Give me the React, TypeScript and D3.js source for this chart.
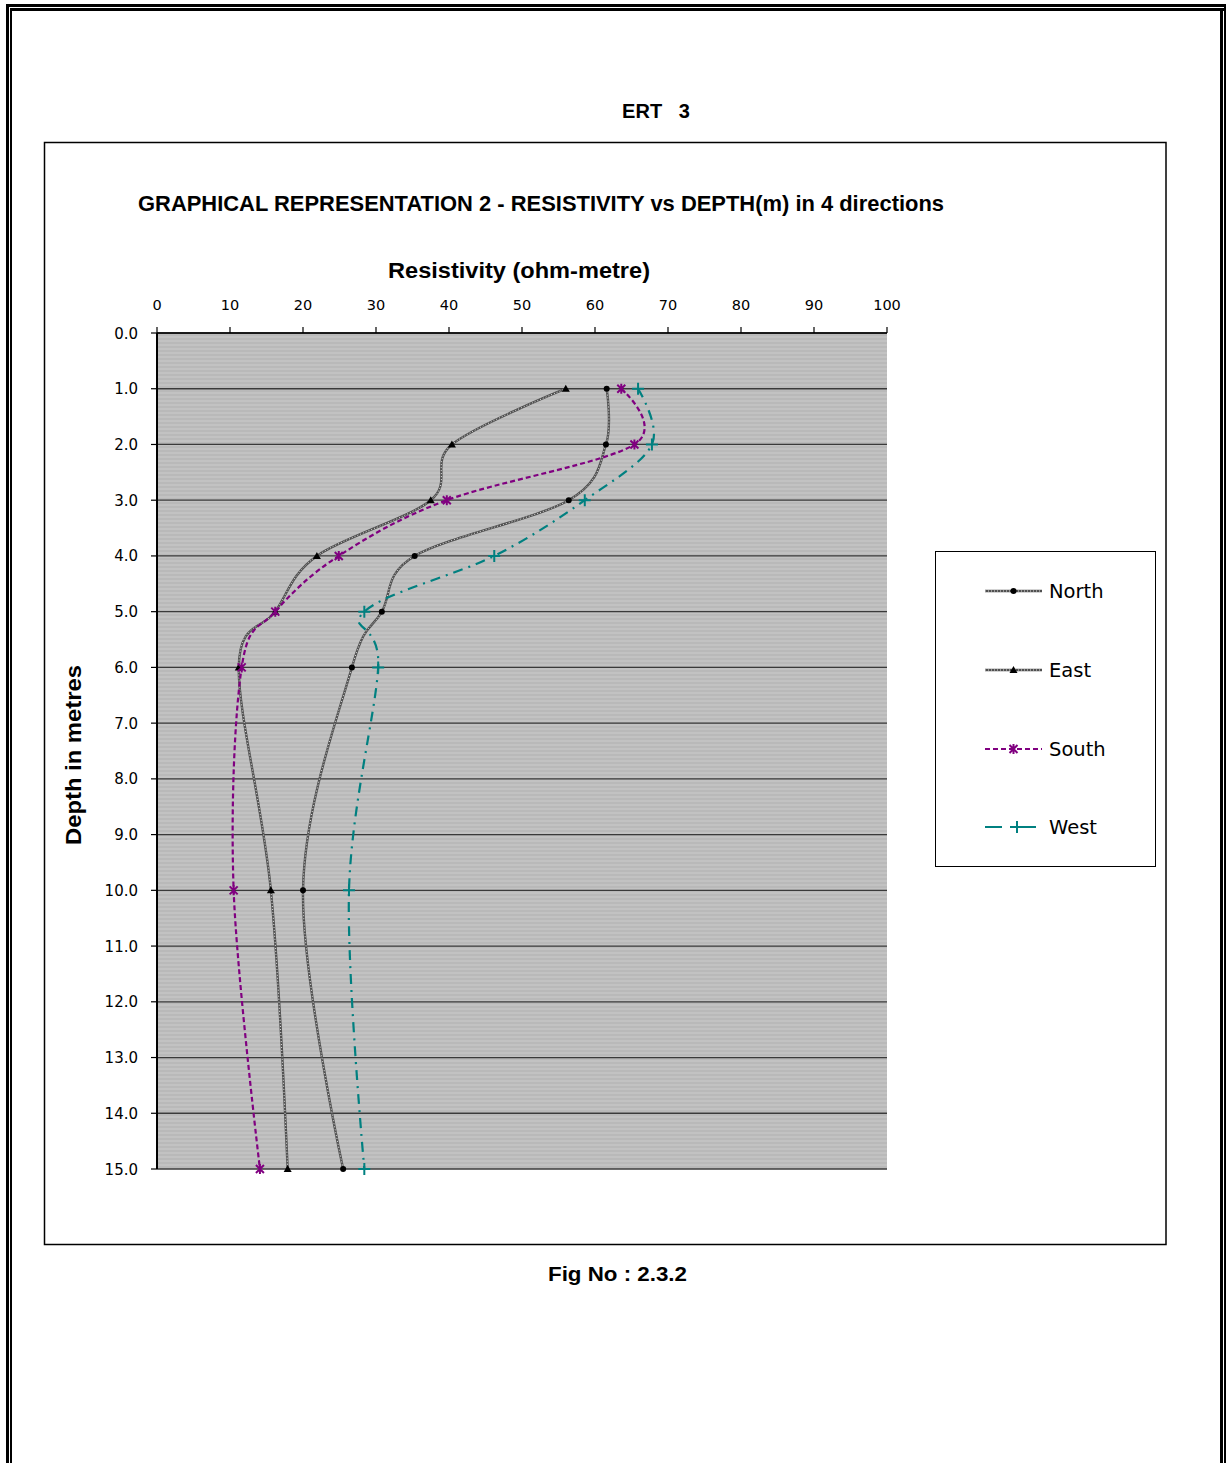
import React from "react";
import * as d3 from "d3";

const depths = [1, 2, 3, 4, 5, 6, 10, 15];
const north = [61.6, 61.5, 56.4, 35.3, 30.8, 26.7, 20.0, 25.5];
const east = [56.0, 40.4, 37.5, 21.9, 16.2, 11.2, 15.6, 17.9];
const south = [63.6, 65.4, 39.7, 24.9, 16.2, 11.6, 10.5, 14.1];
const west = [65.9, 67.8, 58.6, 46.2, 28.4, 30.3, 26.3, 28.4];
const xTicks = [0, 10, 20, 30, 40, 50, 60, 70, 80, 90, 100];
const yTicks = d3.range(0, 16);
const seriesNames = ["North", "East", "South", "West"];

const W = 1226;
const H = 1463;
const PL = 157, PR = 887, PT = 333, PB = 1169;

export default function App() {
  const x = d3.scaleLinear().domain([0, 100]).range([PL, PR]);
  const y = d3.scaleLinear().domain([0, 15]).range([PT, PB]);
  const line = d3
    .line<[number, number]>()
    .x((d) => x(d[0]))
    .y((d) => y(d[1]))
    .curve(d3.curveCardinal.tension(0));
  const pts = (vals: number[]) => vals.map((v, i) => [v, depths[i]] as [number, number]);

  const tickFont = "DejaVu Sans, Verdana, sans-serif";
  const titleFont = "Liberation Sans, Arial, sans-serif";

  const circle = (cx: number, cy: number, k: string) => (
    <circle key={k} cx={cx} cy={cy} r={3} fill="#000" />
  );
  const tri = (cx: number, cy: number, k: string) => (
    <path key={k} d={`M${cx},${cy - 4}L${cx + 4},${cy + 3}L${cx - 4},${cy + 3}Z`} fill="#000" />
  );
  const star = (cx: number, cy: number, k: string) => (
    <path
      key={k}
      d={`M${cx - 4},${cy - 4}L${cx + 4},${cy + 4}M${cx - 4},${cy + 4}L${cx + 4},${cy - 4}M${cx},${cy - 5}L${cx},${cy + 5}`}
      stroke="#800080"
      strokeWidth={2}
      fill="none"
    />
  );
  const plus = (cx: number, cy: number, k: string) => (
    <path
      key={k}
      d={`M${cx - 6},${cy}L${cx + 6},${cy}M${cx},${cy - 6}L${cx},${cy + 6}`}
      stroke="#008080"
      strokeWidth={2}
      fill="none"
    />
  );

  const grayLine = (d: string, k: string) => (
    <g key={k}>
      <path d={d} fill="none" stroke="#505050" strokeWidth={2.4} />
      <path d={d} fill="none" stroke="#e0e0e0" strokeWidth={1} strokeDasharray="1 2" />
    </g>
  );

  const legendY = [591, 670, 749, 827];

  return (
    <svg
      width={W}
      height={H}
      style={{ position: "absolute", left: 0, top: 0, background: "#fff" }}
    >
      <defs>
        <pattern id="stripes" width={4} height={4} patternUnits="userSpaceOnUse">
          <rect width={4} height={4} fill="#c2c2c2" />
          <rect y={2} width={4} height={2} fill="#b9b9b9" />
        </pattern>
      </defs>

      {/* page double border */}
      <line x1={7.5} y1={4} x2={7.5} y2={H} stroke="#000" strokeWidth={3} />
      <line x1={11} y1={8} x2={11} y2={H} stroke="#000" strokeWidth={2} />
      <line x1={6} y1={5.5} x2={1226} y2={5.5} stroke="#000" strokeWidth={3} />
      <line x1={10} y1={9.5} x2={1224} y2={9.5} stroke="#000" strokeWidth={3} />
      <line x1={1221.5} y1={8} x2={1221.5} y2={H} stroke="#000" strokeWidth={3} />
      <line x1={1225} y1={4} x2={1225} y2={H} stroke="#000" strokeWidth={2} />

      <text
        x={656}
        y={118}
        textAnchor="middle"
        fontFamily={titleFont}
        fontWeight="bold"
        fontSize={20}
        style={{ whiteSpace: "pre" }}
      >
        {"ERT   3"}
      </text>

      {/* chart frame */}
      <rect x={44.5} y={142.5} width={1121.5} height={1102} fill="#fff" stroke="#000" strokeWidth={1.5} />

      <text x={138} y={211} fontFamily={titleFont} fontWeight="bold" fontSize={21.5} textLength={806} lengthAdjust="spacingAndGlyphs">
        GRAPHICAL REPRESENTATION 2 - RESISTIVITY vs DEPTH(m) in 4 directions
      </text>
      <text x={388} y={278} fontFamily={titleFont} fontWeight="bold" fontSize={22} textLength={262} lengthAdjust="spacingAndGlyphs">
        Resistivity (ohm-metre)
      </text>
      <text
        transform={`translate(81,${845}) rotate(-90)`}
        fontFamily={titleFont}
        fontWeight="bold"
        fontSize={22}
        textLength={180}
        lengthAdjust="spacingAndGlyphs"
      >
        Depth in metres
      </text>

      {/* plot area */}
      <rect x={PL} y={PT} width={PR - PL} height={PB - PT} fill="url(#stripes)" />
      {yTicks.map((t) => (
        <line key={"g" + t} x1={PL} x2={PR} y1={y(t)} y2={y(t)} stroke="#3a3a3a" strokeWidth={1.3} />
      ))}
      {/* axes */}
      <line x1={PL} x2={PR} y1={PT} y2={PT} stroke="#000" strokeWidth={1.5} />
      <line x1={PL} x2={PL} y1={PT} y2={PB} stroke="#000" strokeWidth={2} />
      {xTicks.map((t) => (
        <g key={"xt" + t}>
          <line x1={x(t)} x2={x(t)} y1={PT - 6} y2={PT} stroke="#000" strokeWidth={1.2} />
          <text x={x(t)} y={310} textAnchor="middle" fontFamily={tickFont} fontSize={14.5}>
            {t}
          </text>
        </g>
      ))}
      {yTicks.map((t) => (
        <g key={"yt" + t}>
          <line x1={PL - 6} x2={PL} y1={y(t)} y2={y(t)} stroke="#000" strokeWidth={1.2} />
          <text x={138} y={y(t) + 5.5} textAnchor="end" fontFamily={tickFont} fontSize={15}>
            {t.toFixed(1)}
          </text>
        </g>
      ))}

      {/* series */}
      {grayLine(line(pts(east))!, "east")}
      {grayLine(line(pts(north))!, "north")}
      <path d={line(pts(south))!} fill="none" stroke="#800080" strokeWidth={2.2} strokeDasharray="5 3" />
      <path d={line(pts(west))!} fill="none" stroke="#008080" strokeWidth={2.2} strokeDasharray="10 6 2 6" />
      {north.map((v, i) => circle(x(v), y(depths[i]), "n" + i))}
      {east.map((v, i) => tri(x(v), y(depths[i]), "e" + i))}
      {south.map((v, i) => star(x(v), y(depths[i]), "s" + i))}
      {west.map((v, i) => plus(x(v), y(depths[i]), "w" + i))}

      {/* legend */}
      <rect x={935.5} y={551.5} width={220} height={315} fill="#fff" stroke="#000" strokeWidth={1} />
      {grayLine(`M985,${legendY[0]}L1042,${legendY[0]}`, "ln")}
      {circle(1013.5, legendY[0], "lnm")}
      {grayLine(`M985,${legendY[1]}L1042,${legendY[1]}`, "le")}
      {tri(1013.5, legendY[1], "lem")}
      <path d={`M985,${legendY[2]}L1042,${legendY[2]}`} stroke="#800080" strokeWidth={2.2} strokeDasharray="5 3" />
      {star(1013.5, legendY[2], "lsm")}
      <path d={`M985,${legendY[3]}L1002,${legendY[3]}M1010,${legendY[3]}L1036,${legendY[3]}`} stroke="#008080" strokeWidth={2.2} />
      {plus(1017, legendY[3], "lwm")}
      {seriesNames.map((s, i) => (
        <text key={s} x={1049} y={legendY[i] + 7} fontFamily={tickFont} fontSize={19.5}>
          {s}
        </text>
      ))}

      <text x={548} y={1281} fontFamily={titleFont} fontWeight="bold" fontSize={20.5} textLength={139} lengthAdjust="spacingAndGlyphs">
        Fig No : 2.3.2
      </text>
    </svg>
  );
}
